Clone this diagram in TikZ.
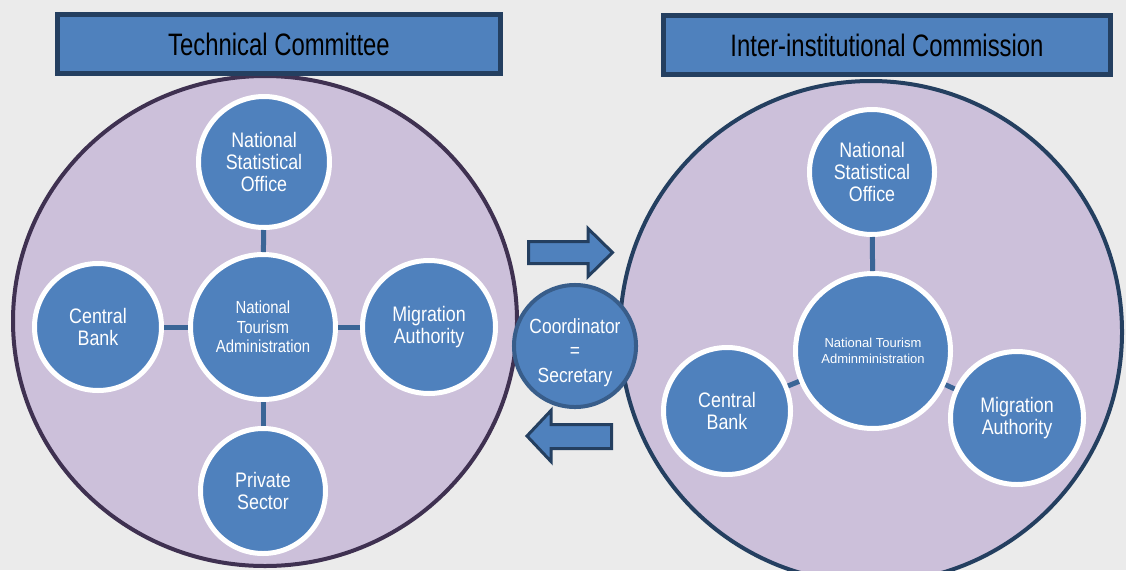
\documentclass[tikz,border=0pt]{standalone}
\usepackage{fontspec}
\setmainfont{Liberation Sans}[FakeStretch=0.85]
\newfontfamily\headfont{Liberation Sans}[FakeStretch=0.77]
\newfontfamily\smallfont{Liberation Sans}
\usepackage{xcolor}
\usepackage{tikz}

\definecolor{bluefill}{HTML}{4F81BD}
\definecolor{navyline}{HTML}{243F60}
\definecolor{linkblue}{HTML}{3A6596}
\definecolor{lavender}{HTML}{CCC0DA}
\definecolor{plumline}{HTML}{3F3151}
\definecolor{bggray}{HTML}{EBEBEB}
\definecolor{coordline}{HTML}{385D8A}

\tikzstyle{title} = [
    rectangle,
    fill=bluefill,
    draw=navyline,
    line width=5pt,
    inner sep=0pt,
    font=\headfont\fontsize{31}{34}\selectfont
    ]
\tikzstyle{member} = [
    circle,
    fill=bluefill,
    draw=white,
    line width=5pt,
    inner sep=0pt,
    text=white,
    align=center,
    font=\fontsize{21}{21.7}\selectfont
    ]
\tikzstyle{hub} = [member, font=\fontsize{17.5}{19.5}\selectfont]
\tikzstyle{link} = [draw=linkblue, line width=5pt]
\tikzstyle{flow} = [fill=bluefill, draw=navyline, line width=3pt]

\begin{document}
\begin{tikzpicture}[x=1pt, y=-1pt]
        \useasboundingbox (0,0) rectangle (1126,570);
        \fill[bggray] (0,0) rectangle (1126,570);
        \clip (0,0) rectangle (1126,570);

        % Groups
        \draw[fill=lavender, draw=plumline, line width=4pt] (265,321) ellipse [x radius=252, y radius=245];
        \draw[fill=lavender, draw=navyline, line width=4pt] (871,332) circle [radius=251];

        \node (TC) [title, minimum width=443pt, minimum height=59pt] at (279,44) {Technical Committee};
        \node (IC) [title, minimum width=447pt, minimum height=59pt] at (887,45) {Inter-institutional Commission};

        % Technical Committee
        \node (lNTA) [hub, minimum size=145pt] at (263,327) {National\\Tourism\\Administration};
        \node (lNSO) [member, minimum size=131pt] at (264,162) {National\\Statistical\\Office};
        \node (lCB) [member, minimum size=127pt] at (98,327) {Central\\Bank};
        \node (lMA) [member, minimum size=133pt] at (429,327) {Migration\\Authority};
        \node (lPS) [member, minimum size=125pt] at (263,491) {Private\\Sector};

        % Inter-institutional Commission
        \node (rNTA) [member, minimum size=155pt, font=\smallfont\fontsize{13}{15.5}\selectfont] at (873,351) {National Tourism\\Adminministration};
        \node (rNSO) [member, minimum size=125pt] at (872,172) {National\\Statistical\\Office};
        \node (rCB) [member, minimum size=127pt] at (727,411) {Central\\Bank};
        \node (rMA) [member, minimum size=133pt] at (1017,418) {Migration\\Authority};

        % Lines
        \draw[link] (lNSO) -- (lNTA);
        \draw[link] (lCB) -- (lNTA);
        \draw[link] (lMA) -- (lNTA);
        \draw[link] (lPS) -- (lNTA);
        \draw[link] (rNSO) -- (rNTA);
        \draw[link] (rCB) -- (rNTA);
        \draw[link] (rMA) -- (rNTA);

        % Coordinator and arrows
        \draw[flow] (528.5,241.5) -- (588,241.5) -- (588,228.5) -- (612.5,252.5) -- (588,276.5) -- (588,263.5) -- (528.5,263.5) -- cycle;
        \draw[flow] (611.5,424.5) -- (551,424.5) -- (551,410.5) -- (527,436) -- (551,461.5) -- (551,448.5) -- (611.5,448.5) -- cycle;
        \node (coord) [member, draw=coordline, line width=4pt, minimum size=122pt, font=\fontsize{20.5}{24.5}\selectfont] at (575,346) {\rule{0pt}{28pt}Coordinator\\=\\Secretary};

    \end{tikzpicture}
\end{document}
